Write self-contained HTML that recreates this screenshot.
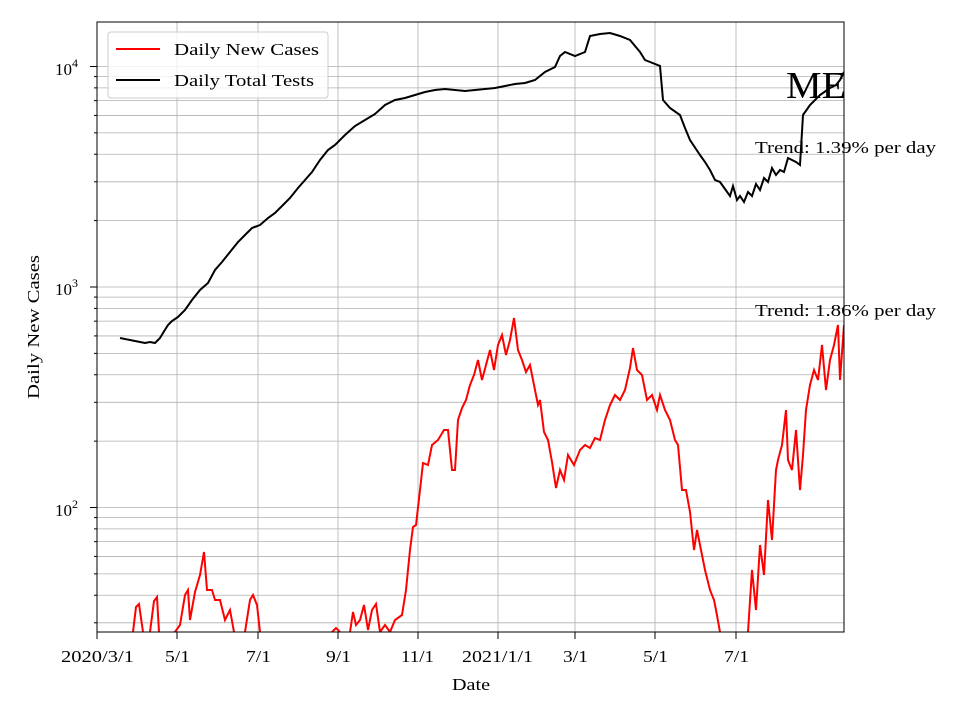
<!DOCTYPE html>
<html><head><meta charset="utf-8"><style>
body{margin:0;background:#fff}
svg text{font-family:"Liberation Serif",serif;fill:#000}
</style></head><body>
<svg width="960" height="720" viewBox="0 0 960 720" xmlns="http://www.w3.org/2000/svg">
<rect width="960" height="720" fill="#fff"/>
<g id="grid" stroke="#b0b0b0" stroke-width="0.8" fill="none"></g>
<g clip-path="url(#c)">
<defs><clipPath id="c"><rect x="97" y="22" width="747" height="610"/></clipPath></defs>
<polyline fill="none" stroke="#000" stroke-width="2" points="120,338 130,340 140,342 145,343 150,342 155,343 160,338 163,333 168,325 172,321 178,317 185,310 192,300 200,290 208,283 215,270 222,262 230,252 238,242 245,235 252,228 260,225 268,218 275,213 283,205 290,198 298,188 305,180 312,172 320,160 328,150 335,145 345,135 355,126 365,120 375,114 385,105 395,100 405,98 415,95 425,92 435,90 445,89 455,90 465,91 475,90 485,89 495,88 505,86 515,84 525,83 535,80 545,72 555,67 560,56 565,52 575,56 585,52 590,36 600,34 610,33 620,36 630,40 635,46 640,52 645,60 650,62 660,66 663,100 670,108 680,115 685,128 690,140 700,155 705,162 710,170 715,180 720,182 730,196 733,186 737,200 740,196 744,202 748,192 752,196 756,184 760,190 764,178 768,182 772,168 776,175 780,170 784,172 788,158 796,162 800,165 803,115 810,105 820,95 830,88 836,85 840,80 844,72"/>
<polyline fill="none" stroke="#f00" stroke-width="2" points="133,632 136,607 139,604 143,632"/>
<polyline fill="none" stroke="#f00" stroke-width="2" points="150,632 154,601 157,597 159,632"/>
<polyline fill="none" stroke="#f00" stroke-width="2" points="175,632 180,625 185,595 188,590 190,620 195,592 200,575 204,552 207,590 212,590 215,600 220,600 225,620 230,610 234,632"/>
<polyline fill="none" stroke="#f00" stroke-width="2" points="245,632 250,600 253,595 257,605 260,632"/>
<polyline fill="none" stroke="#f00" stroke-width="2" points="332,632 336,628 340,632"/>
<polyline fill="none" stroke="#f00" stroke-width="2" points="350,632 353,612 356,625 360,620 364,605 368,630 372,610 376,604 380,632 385,625 390,632 395,620 402,615 406,590 410,550 413,527 416,525 420,490 423,463 428,465 432,445 438,440 444,430 448,430 452,470 455,470 458,420 462,408 466,400 470,385 474,375 478,360 482,380 486,365 490,350 494,370 498,345 502,335 506,355 510,340 514,318 518,350 522,360 526,372 530,365 534,385 538,405 540,400 544,432 548,440 552,462 556,488 560,470 564,480 568,455 574,465 580,450 585,445 590,448 595,438 600,440 605,420 610,405 615,395 620,400 625,390 630,368 633,348 637,370 642,375 647,400 652,395 657,410 660,395 665,410 670,420 675,440 678,445 682,490 686,490 690,512 694,550 697,530 700,545 705,570 710,590 714,600 716,610 720,632"/>
<polyline fill="none" stroke="#f00" stroke-width="2" points="748,632 752,570 756,610 760,545 764,575 768,500 772,540 776,470 778,460 782,445 786,410 788,460 792,470 796,430 800,490 803,455 806,410 810,385 814,370 818,380 822,345 826,390 830,360 834,345 838,325 840,380 844,325"/>
</g>
<rect x="97" y="22" width="747" height="610" fill="none" stroke="#000" stroke-width="1"/>
<g id="ticks" stroke="#000" stroke-width="1"></g>
<text x="55" y="75" font-size="17">10<tspan dy="-8" font-size="12">4</tspan></text>
<text x="55" y="295" font-size="17">10<tspan dy="-8" font-size="12">3</tspan></text>
<text x="55" y="516" font-size="17">10<tspan dy="-8" font-size="12">2</tspan></text>
<g font-size="17" lengthAdjust="spacingAndGlyphs">
<text x="61" y="662" textLength="73" lengthAdjust="spacingAndGlyphs">2020/3/1</text>
<text x="165" y="662" textLength="25" lengthAdjust="spacingAndGlyphs">5/1</text>
<text x="246" y="662" textLength="25" lengthAdjust="spacingAndGlyphs">7/1</text>
<text x="326" y="662" textLength="25" lengthAdjust="spacingAndGlyphs">9/1</text>
<text x="401" y="662" textLength="33" lengthAdjust="spacingAndGlyphs">11/1</text>
<text x="462" y="662" textLength="71" lengthAdjust="spacingAndGlyphs">2021/1/1</text>
<text x="563" y="662" textLength="25" lengthAdjust="spacingAndGlyphs">3/1</text>
<text x="643" y="662" textLength="25" lengthAdjust="spacingAndGlyphs">5/1</text>
<text x="724" y="662" textLength="25" lengthAdjust="spacingAndGlyphs">7/1</text>
</g>
<text x="452" y="690" font-size="17" textLength="38" lengthAdjust="spacingAndGlyphs">Date</text>
<text x="39" y="327" font-size="17" text-anchor="middle" textLength="144" lengthAdjust="spacingAndGlyphs" transform="rotate(-90 39 327)">Daily New Cases</text>
<text x="786" y="98" font-size="38" textLength="60" lengthAdjust="spacingAndGlyphs">ME</text>
<text x="755" y="153" font-size="17" textLength="181" lengthAdjust="spacingAndGlyphs">Trend: 1.39% per day</text>
<text x="755" y="316" font-size="17" textLength="181" lengthAdjust="spacingAndGlyphs">Trend: 1.86% per day</text>
<rect x="108" y="32" width="220" height="66" rx="3" fill="#fff" fill-opacity="0.8" stroke="#ccc"/>
<line x1="116" y1="49" x2="160" y2="49" stroke="#f00" stroke-width="2"/>
<text x="174" y="55" font-size="17" textLength="145" lengthAdjust="spacingAndGlyphs">Daily New Cases</text>
<line x1="116" y1="80" x2="160" y2="80" stroke="#000" stroke-width="2"/>
<text x="174" y="86" font-size="17" textLength="140" lengthAdjust="spacingAndGlyphs">Daily Total Tests</text>
<script>
var g=document.getElementById('grid'),t=document.getElementById('ticks'),ns='http://www.w3.org/2000/svg';
function L(p,a){var l=document.createElementNS(ns,'line');for(var k in a)l.setAttribute(k,a[k]);p.appendChild(l);}
function Y(v){return 287-220.5*Math.log10(v/1000);}
for(var e=1;e<=4;e++)for(var m=1;m<10;m++){var y=Y(m*Math.pow(10,e));if(y<22||y>632)continue;L(g,{x1:97,x2:844,y1:y,y2:y});L(t,{x1:m==1?90:94,x2:97,y1:y,y2:y});}
[97,177,258,338,418,498,575,655,736].forEach(function(x){L(g,{x1:x,x2:x,y1:22,y2:632});L(t,{x1:x,x2:x,y1:632,y2:639});});
</script>
</svg>
</body></html>
